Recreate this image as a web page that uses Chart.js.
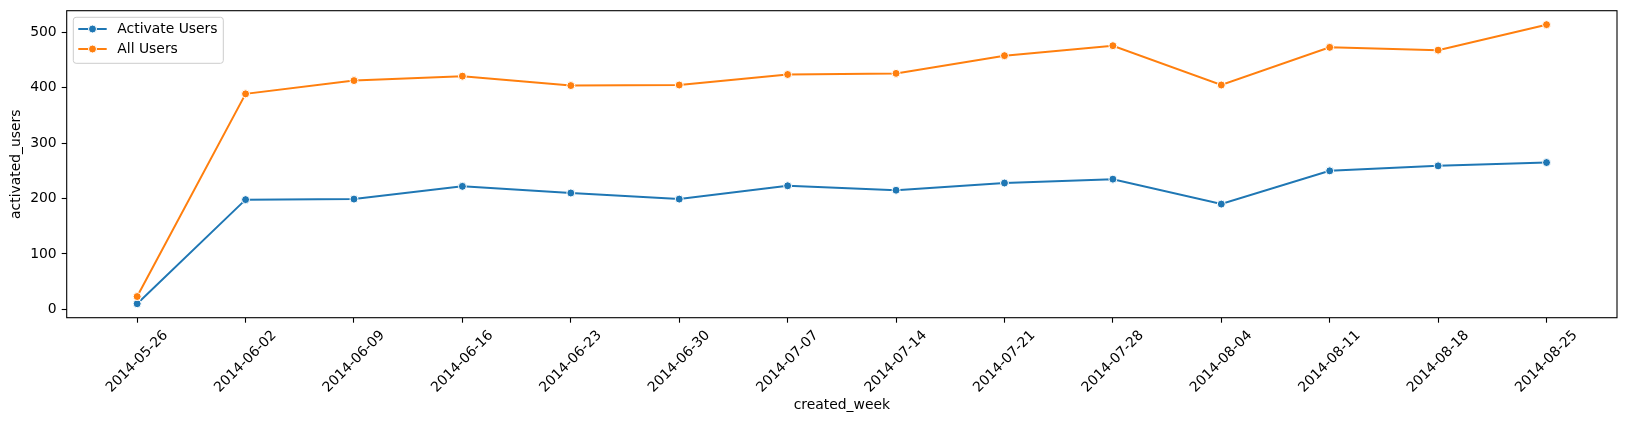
<!DOCTYPE html>
<html>
<head>
<meta charset="utf-8">
<script src="https://cdn.jsdelivr.net/npm/chart.js@4"></script>
<style>
  html, body { margin: 0; padding: 0; background: #ffffff; }
  #wrap { width: 1626px; height: 424px; position: relative; }
</style>
</head>
<body>
<div id="wrap"><canvas id="users-chart"></canvas></div>
<script>
const weeks = ['2014-05-26', '2014-06-02', '2014-06-09', '2014-06-16', '2014-06-23', '2014-06-30', '2014-07-07',
    '2014-07-14', '2014-07-21', '2014-07-28', '2014-08-04', '2014-08-11', '2014-08-18', '2014-08-25'];
const activatedUsers = [10, 198, 199, 222, 210, 199, 223, 215, 228, 235, 190, 250, 259, 265];
const allUsers = [23, 389, 413, 421, 404, 405, 424, 426, 458, 476, 405, 473, 468, 514];
const yTicks = [0, 100, 200, 300, 400, 500];
const seriesNames = ['Activate Users', 'All Users'];
const seriesColors = ['#1f77b4', '#ff7f0e'];

const FONT = 'DejaVu Sans';
const FS = 13.9;

document.addEventListener("DOMContentLoaded", () => {
    iniciarChart();
});

function toPoints(values) {
    return values.map((v, i) => ({ x: i, y: v }));
}

// marco, etiquetas giradas y leyenda al estilo matplotlib
const extrasPlugin = {
    id: 'extras',
    afterDraw(chart) {
        const ctx = chart.ctx;
        const area = chart.chartArea;
        const xScale = chart.scales.x;

        ctx.save();
        ctx.strokeStyle = '#000000';
        ctx.lineWidth = 1.1;
        ctx.strokeRect(area.left, area.top, area.right - area.left, area.bottom - area.top);

        // etiquetas del eje x a 45 grados, centradas en la marca
        ctx.font = FS + 'px "' + FONT + '"';
        ctx.fillStyle = '#000000';
        ctx.textAlign = 'center';
        ctx.textBaseline = 'middle';
        const top = area.bottom + 9.7;
        weeks.forEach((w, i) => {
            const x = xScale.getPixelForValue(i);
            const tw = ctx.measureText(w).width;
            const boxH = (tw + 16.2) * Math.SQRT1_2;
            ctx.save();
            ctx.translate(x, top + boxH / 2);
            ctx.rotate(-Math.PI / 4);
            ctx.fillText(w, 0, 0);
            ctx.restore();
        });

        // leyenda
        const lx = 73.3, ly = 17.3, lw = 150, lh = 46;
        ctx.beginPath();
        ctx.roundRect(lx, ly, lw, lh, 2.8);
        ctx.fillStyle = 'rgba(255,255,255,0.8)';
        ctx.fill();
        ctx.strokeStyle = '#cccccc';
        ctx.lineWidth = 1;
        ctx.stroke();

        ctx.textAlign = 'left';
        seriesNames.forEach((name, i) => {
            const y = 29 + i * 20;
            ctx.strokeStyle = seriesColors[i];
            ctx.lineWidth = 2;
            ctx.beginPath();
            ctx.moveTo(78.3, y);
            ctx.lineTo(106.7, y);
            ctx.stroke();
            ctx.beginPath();
            ctx.arc(92.5, y, 4, 0, Math.PI * 2);
            ctx.fillStyle = seriesColors[i];
            ctx.fill();
            ctx.strokeStyle = '#ffffff';
            ctx.lineWidth = 1;
            ctx.stroke();
            ctx.fillStyle = '#000000';
            ctx.fillText(name, 117.3, y + 0.5);
        });
        ctx.restore();
    }
};

function iniciarChart() {
    const ctx = document.querySelector('#users-chart');

    new Chart(ctx, {
        type: 'line',
        data: {
            datasets: [{
                label: seriesNames[0],
                data: toPoints(activatedUsers),
                borderColor: seriesColors[0],
                backgroundColor: seriesColors[0],
                borderWidth: 2,
                pointRadius: 4,
                pointBorderColor: '#ffffff',
                pointBorderWidth: 1,
                order: 1
            }, {
                label: seriesNames[1],
                data: toPoints(allUsers),
                borderColor: seriesColors[1],
                backgroundColor: seriesColors[1],
                borderWidth: 2,
                pointRadius: 4,
                pointBorderColor: '#ffffff',
                pointBorderWidth: 1,
                order: 0
            }]
        },
        options: {
            responsive: true,
            maintainAspectRatio: false,
            animation: false,
            layout: {
                padding: { left: 0, top: 10.7, right: 9, bottom: 0 }
            },
            plugins: {
                legend: { display: false },
                tooltip: { enabled: false }
            },
            scales: {
                x: {
                    type: 'linear',
                    min: -0.65,
                    max: weeks.length - 1 + 0.65,
                    afterBuildTicks: (scale) => {
                        scale.ticks = weeks.map((w, i) => ({ value: i }));
                    },
                    afterFit: (scale) => {
                        scale.height = 106.3;
                        scale.paddingLeft = 0;
                        scale.paddingRight = 0;
                    },
                    ticks: { display: false },
                    grid: {
                        color: 'rgba(0,0,0,0)',
                        tickColor: '#000000',
                        tickLength: 5,
                        tickWidth: 1.1
                    },
                    border: { display: false },
                    title: {
                        display: true,
                        text: 'created_week',
                        color: '#000000',
                        font: { family: FONT, size: FS },
                        padding: { top: 0, bottom: 10.2 }
                    }
                },
                y: {
                    min: -15.2,
                    max: 539.2,
                    afterBuildTicks: (scale) => {
                        scale.ticks = yTicks.map(v => ({ value: v }));
                    },
                    afterFit: (scale) => {
                        scale.width = 66.7;
                        scale.paddingTop = 0;
                        scale.paddingBottom = 0;
                    },
                    ticks: {
                        color: '#000000',
                        padding: 5,
                        font: { family: FONT, size: FS }
                    },
                    grid: {
                        color: 'rgba(0,0,0,0)',
                        tickColor: '#000000',
                        tickLength: 5,
                        tickWidth: 1.1
                    },
                    border: { display: false },
                    title: {
                        display: true,
                        text: 'activated_users',
                        color: '#000000',
                        font: { family: FONT, size: FS },
                        padding: { top: 8.3, bottom: 0 }
                    }
                }
            }
        },
        plugins: [extrasPlugin]
    });
}
</script>
</body>
</html>
